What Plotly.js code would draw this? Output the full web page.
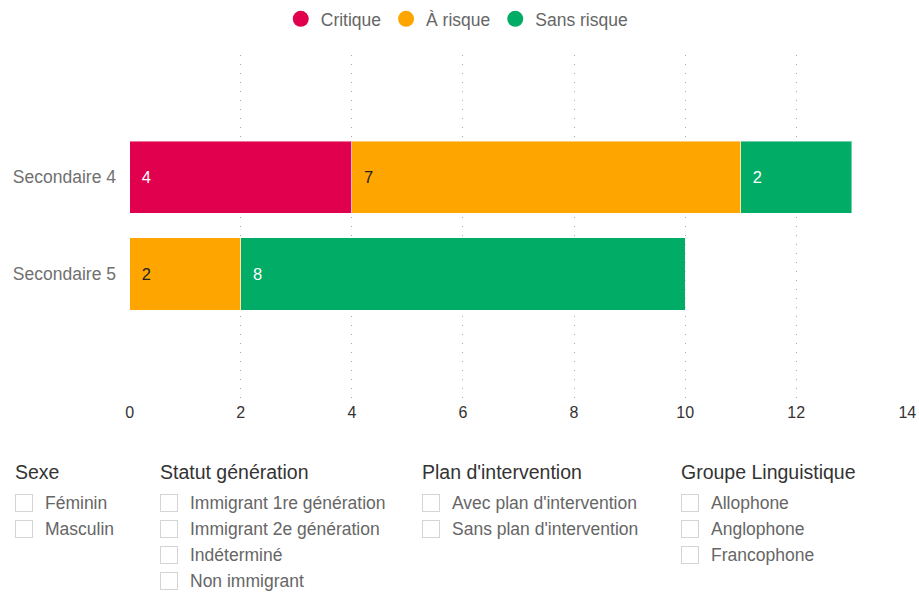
<!DOCTYPE html>
<html>
<head>
<meta charset="utf-8">
<script src="https://cdn.plot.ly/plotly-3.0.1.min.js"></script>
<style>
  html, body { margin: 0; padding: 0; background: #fff; }
  #wrap { position: relative; width: 919px; height: 592px; font-family: "Liberation Sans", Arial, sans-serif; }
  #chart { position: absolute; left: 0; top: 0; width: 919px; height: 592px; }
  .grp { position: absolute; top: 459px; }
  .grp h3 { margin: 0 0 5px 0; font-weight: 400; font-size: 19.5px; color: #333; line-height: 26px; }
  .item { display: flex; align-items: center; height: 26px; font-size: 17.5px; color: #666; }
  .box { width: 18px; height: 18px; border: 1px solid #d4d4d4; box-sizing: border-box; margin-right: 12px; background: #fff; }
</style>
</head>
<body>
<div id="wrap">
  <div id="chart"></div>
  <div id="filters"></div>
</div>
<script>
// Data
var categories = ['Secondaire 4', 'Secondaire 5'];
var seriesNames = ['Critique', 'À risque', 'Sans risque'];
var critique = [4, null];
var aRisque = [7, 2];
var sansRisque = [2, 8];
var xTicks = [0, 2, 4, 6, 8, 10, 12, 14];

var filterGroups = ['Sexe', 'Statut génération', "Plan d'intervention", 'Groupe Linguistique'];
var filterItems = [
  ['Féminin', 'Masculin'],
  ['Immigrant 1re génération', 'Immigrant 2e génération', 'Indéterminé', 'Non immigrant'],
  ["Avec plan d'intervention", "Sans plan d'intervention"],
  ['Allophone', 'Anglophone', 'Francophone']
];

// Styles
var colors = ['#E0004D', '#FFA500', '#00AC66'];
var textColors = ['#ffffff', '#222222', '#ffffff'];
var values = [critique, aRisque, sansRisque];
var FONT = '"Liberation Sans", Arial, sans-serif';

var traces = [];
values.forEach(function (v, i) {
  traces.push({
    type: 'bar',
    orientation: 'h',
    y: categories,
    x: v,
    name: seriesNames[i],
    showlegend: false,
    marker: { color: colors[i], line: { color: 'rgba(255,255,255,0.45)', width: 1 } },
    text: v.map(function (d) { return d == null ? '' : '\u00A0\u00A0' + d; }),
    texttemplate: '%{text}',
    textposition: 'inside',
    insidetextanchor: 'start',
    textfont: { family: FONT, size: 16.5, color: textColors[i] },
    hoverinfo: 'x+name'
  });
});
// legend entries with round markers
seriesNames.forEach(function (n, i) {
  traces.push({
    type: 'scatter', mode: 'markers', x: [null], y: [null], name: n,
    marker: { symbol: 'circle', size: 16, color: colors[i] },
    showlegend: true, hoverinfo: 'skip'
  });
});

var layout = {
  width: 919, height: 592,
  margin: { l: 129, r: 11, t: 55, b: 191 },
  barmode: 'stack',
  bargap: 0.255,
  paper_bgcolor: '#fff', plot_bgcolor: '#fff',
  font: { family: FONT, color: '#666' },
  showlegend: true,
  legend: {
    orientation: 'h', xref: 'container', yref: 'container',
    x: 0.497, xanchor: 'center', y: 0.968, yanchor: 'middle',
    font: { family: FONT, size: 17.5, color: '#666' },
    itemwidth: 30, tracegroupgap: 0, traceorder: 'normal'
  },
  xaxis: {
    range: [-0.012, 14.012], tickvals: xTicks, ticktext: xTicks.map(String),
    showgrid: true, gridcolor: '#a8a8a8', gridwidth: 1, griddash: '1px,8px',
    zeroline: false, showline: false, ticks: '',
    tickfont: { family: '"Liberation Sans Narrow", "Liberation Sans", Arial, sans-serif', size: 16, color: '#333' },
    fixedrange: true
  },
  yaxis: {
    type: 'category', range: [2.31, -1.26],
    showgrid: false, zeroline: false, showline: false, ticks: '',
    ticklabelstandoff: 12,
    tickfont: { family: FONT, size: 17.5, color: '#707070' }, fixedrange: true
  }
};

Plotly.newPlot('chart', traces, layout, { displayModeBar: false, responsive: false });

// Filters (checkbox lists)
var lefts = [15, 160, 422, 681];
var host = document.getElementById('filters');
filterGroups.forEach(function (g, gi) {
  var d = document.createElement('div');
  d.className = 'grp';
  d.style.left = lefts[gi] + 'px';
  var h = document.createElement('h3');
  h.textContent = g;
  d.appendChild(h);
  filterItems[gi].forEach(function (it) {
    var row = document.createElement('div');
    row.className = 'item';
    var b = document.createElement('span');
    b.className = 'box';
    var t = document.createElement('span');
    t.textContent = it;
    row.appendChild(b); row.appendChild(t);
    d.appendChild(row);
  });
  host.appendChild(d);
});
</script>
</body>
</html>
